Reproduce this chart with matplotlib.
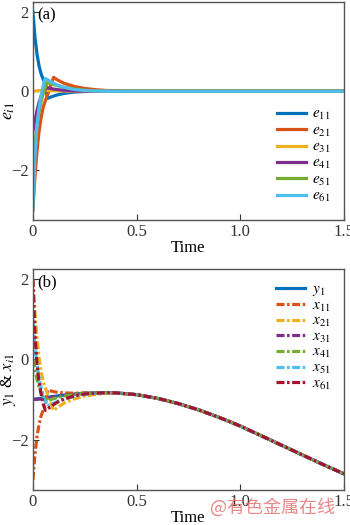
import matplotlib
matplotlib.use("Agg")
import matplotlib.pyplot as plt
import numpy as np

plt.rcParams['font.family'] = ['Liberation Serif', 'DejaVu Serif']
plt.rcParams['mathtext.fontset'] = 'stix'

# ---- data ----
t = [0, 0.01, 0.02, 0.03, 0.04, 0.05, 0.06, 0.07, 0.08, 0.09, 0.10, 0.12, 0.15,
     0.2, 0.25, 0.3, 0.35, 0.4, 0.5, 0.6, 0.7, 0.8, 0.9, 1.0, 1.1, 1.2, 1.3, 1.4, 1.5]

y1 = [-1.00, -0.99, -0.985, -0.975, -0.97, -0.96, -0.95, -0.945, -0.94, -0.93, -0.925,
      -0.91, -0.89, -0.865, -0.845, -0.835, -0.83, -0.835, -0.88, -0.97, -1.10, -1.26,
      -1.45, -1.66, -1.90, -2.14, -2.38, -2.62, -2.85]

Z11 = [0.0] * 11
e11 = [2.0, 1.36, 0.93, 0.63, 0.43, 0.30, 0.18, -0.18, -0.16, -0.14, -0.12,
       -0.09, -0.055, -0.02, -0.007, 0.0, 0.0, 0.0] + Z11
e21 = [-3.0, -2.15, -1.5, -1.0, -0.65, -0.40, -0.24, -0.10, 0.06, 0.21, 0.35,
       0.28, 0.20, 0.12, 0.07, 0.04, 0.02, 0.01] + Z11
e31 = [0.0, 0.005, 0.01, 0.015, 0.02, 0.02, 0.02, 0.02, 0.018, 0.015, 0.012,
       0.01, 0.006, 0.003, 0.001, 0.0, 0.0, 0.0] + Z11
e41 = [-1.0, -0.75, -0.48, -0.28, -0.12, -0.02, 0.05, 0.09, 0.075, 0.065, 0.055,
       0.04, 0.025, 0.008, 0.002, 0.0, 0.0, 0.0] + Z11
e51 = [-2.0, -1.3, -0.85, -0.5, -0.25, -0.05, 0.10, 0.22, 0.20, 0.185, 0.17,
       0.14, 0.10, 0.055, 0.025, 0.01, 0.003, 0.0] + Z11
e61 = [-3.0, -1.6, -0.85, -0.4, -0.1, 0.15, 0.32, 0.29, 0.26, 0.23, 0.20,
       0.15, 0.10, 0.045, 0.018, 0.006, 0.0, 0.0] + Z11

e_series = [e11, e21, e31, e41, e51, e61]
e_labels = [r'$e_{11}$', r'$e_{21}$', r'$e_{31}$', r'$e_{41}$', r'$e_{51}$', r'$e_{61}$']
x_labels = [r'$x_{11}$', r'$x_{21}$', r'$x_{31}$', r'$x_{41}$', r'$x_{51}$', r'$x_{61}$']

x_ticks = [0, 0.5, 1.0, 1.5]
x_ticklabels = ['0', '0.5', '1.0', '1.5']
y_ticks = [-2, 0, 2]
y_ticklabels = ['\u22122', '0', '2']

colors_e = ['#0072BD', '#D95319', '#EDB120', '#7E2F8E', '#77AC30', '#4DBEEE']
colors_x = ['#D95319', '#EDB120', '#7E2F8E', '#77AC30', '#4DBEEE', '#A2142F']

tt = np.array(t)
yy = np.array(y1)

fig = plt.figure(figsize=(3.5, 5.25), dpi=100)
axa = fig.add_axes([0.094, 0.581, 0.889, 0.415])
axb = fig.add_axes([0.094, 0.0667, 0.889, 0.4213])

def style(ax):
    ax.set_xlim(0, 1.5)
    ax.set_ylim(-3.25, 2.25)
    ax.set_xticks(x_ticks)
    ax.set_xticklabels(x_ticklabels)
    ax.set_yticks(y_ticks)
    ax.set_yticklabels(y_ticklabels)
    ax.tick_params(direction='in', length=4, width=0.8, labelsize=12, colors='#333333',
                   pad=3)
    for s in ax.spines.values():
        s.set_color('#555555')
        s.set_linewidth(1.0)
    ax.set_xlabel('Time', fontsize=12, labelpad=0)

leg_kw = dict(frameon=False, fontsize=11, handlelength=1.9, handletextpad=0.4,
              borderaxespad=0.5)

# panel (a)
for e, c, lab in zip(e_series, colors_e, e_labels):
    axa.plot(tt, e, color=c, lw=2.3, label=lab)
style(axa)
axa.set_ylabel(r'$e_{i1}$', fontsize=13)
axa.yaxis.set_label_coords(-0.05, 0.5)
axa.text(0.015, 0.975, '(a)', transform=axa.transAxes, fontsize=12, va='top', ha='left')
axa.legend(loc='lower right', labelspacing=0.1, bbox_to_anchor=(1.0, 0.01), **leg_kw)

# panel (b)
axb.plot(tt, yy, color='#0072BD', lw=2.3, label=r'$y_1$')
for e, c, lab in zip(e_series, colors_x, x_labels):
    axb.plot(tt, yy - np.array(e), color=c, lw=2.3, linestyle=(0, (2.5, 0.8, 0.8, 0.8)),
             label=lab)
style(axb)
axb.set_ylabel(r'$y_1$ & $x_{i1}$', fontsize=12)
axb.yaxis.set_label_coords(-0.048, 0.5)
axb.text(0.015, 0.975, '(b)', transform=axb.transAxes, fontsize=12, va='top', ha='left')
axb.legend(loc='upper right', labelspacing=0.05, bbox_to_anchor=(1.0, 1.0), **leg_kw)

fig.text(0.6, 0.034, '@有色金属在线', family=['Noto Sans CJK SC', 'DejaVu Sans'],
         color='#e06060', alpha=0.75, fontsize=13, ha='left', va='center')

fig.savefig('out.png', dpi=100, facecolor='white')
